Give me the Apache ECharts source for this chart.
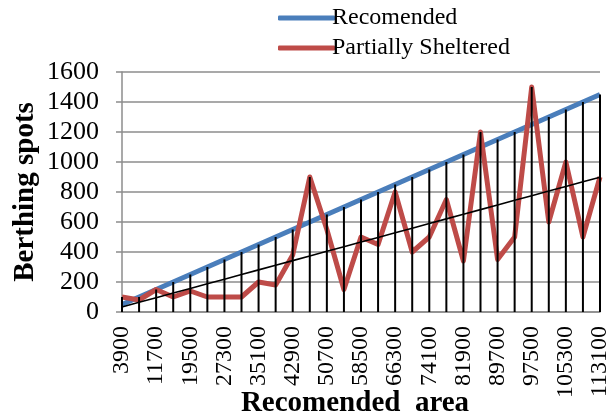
<!DOCTYPE html>
<html>
<head>
<meta charset="utf-8">
<script src="https://cdn.jsdelivr.net/npm/echarts@6/dist/echarts.min.js"></script>
<style>
  html, body { margin: 0; padding: 0; background: #fff; }
  #chart { width: 609px; height: 419px; }
</style>
</head>
<body>
<div id="chart"></div>
<script>
// Recommended area (x categories)
const areas = [3900, 7800, 11700, 15600, 19500, 23400, 27300, 31200, 35100, 39000,
  42900, 46800, 50700, 54600, 58500, 62400, 66300, 70200, 74100, 78000,
  81900, 85800, 89700, 93600, 97500, 101400, 105300, 109200, 113100];

// Berthing spots, recommended
const recommended = [50, 100, 150, 200, 250, 300, 350, 400, 450, 500,
  550, 600, 650, 700, 750, 800, 850, 900, 950, 1000,
  1050, 1100, 1150, 1200, 1250, 1300, 1350, 1400, 1450];

// Berthing spots, partially sheltered
const partiallySheltered = [100, 80, 150, 100, 140, 100, 100, 100, 200, 180,
  380, 900, 550, 150, 500, 450, 800, 400, 500, 750,
  340, 1200, 350, 500, 1500, 600, 1000, 500, 900];

const yTicks = { min: 0, max: 1600, interval: 200 };

// Drop lines: from the highest point of each category down to the axis
const dropTops = recommended.map((v, i) => Math.max(v, partiallySheltered[i]));

// Linear trend of the partially sheltered series (least squares)
const n = partiallySheltered.length;
const mx = (n - 1) / 2;
const my = partiallySheltered.reduce((a, b) => a + b, 0) / n;
let sxy = 0, sxx = 0;
partiallySheltered.forEach((y, i) => { sxy += (i - mx) * (y - my); sxx += (i - mx) * (i - mx); });
const slope = sxy / sxx;
const trend = partiallySheltered.map((_, i) => my + slope * (i - mx));

const font = 'Liberation Serif, Times New Roman, serif';
const gridGray = '#8c8c8c';
const chart = echarts.init(document.getElementById('chart'));
chart.setOption({
  animation: false,
  textStyle: { fontFamily: font },
  grid: { left: 122, right: 9, top: 72, bottom: 107, containLabel: false, outerBoundsMode: 'none' },
  legend: {
    orient: 'vertical',
    left: 273,
    top: 1,
    itemWidth: 57,
    itemHeight: 5,
    itemGap: 6,
    icon: 'roundRect',
    data: ['Recomended', 'Partially Sheltered'],
    textStyle: { fontFamily: font, fontSize: 24, color: '#000', padding: [0, 0, 0, -8] }
  },
  xAxis: {
    type: 'category',
    data: areas,
    boundaryGap: false,
    name: 'Recomended  area',
    nameLocation: 'middle',
    nameGap: 77,
    nameMoveOverlap: false,
    nameTextStyle: { fontFamily: font, fontSize: 29, fontWeight: 'bold', color: '#000', padding: [0, 12, 0, 0] },
    axisLine: { lineStyle: { color: gridGray, width: 1.5 } },
    axisTick: { show: false },
    axisLabel: { interval: 1, rotate: 90, fontFamily: font, fontSize: 24, color: '#000', margin: 14 },
    splitLine: { show: false }
  },
  yAxis: {
    type: 'value',
    min: yTicks.min,
    max: yTicks.max,
    interval: yTicks.interval,
    name: 'Berthing spots',
    nameLocation: 'middle',
    nameGap: 82,
    nameMoveOverlap: false,
    nameRotate: 90,
    nameTextStyle: { fontFamily: font, fontSize: 29, fontWeight: 'bold', color: '#000' },
    axisLine: { show: true, lineStyle: { color: gridGray, width: 1.5 } },
    axisTick: { show: true, length: 6, lineStyle: { color: gridGray, width: 1.5 } },
    axisLabel: { fontFamily: font, fontSize: 26, color: '#000', margin: 23, formatter: v => String(v) },
    splitLine: { lineStyle: { color: gridGray, width: 1.5 } }
  },
  series: [
    {
      name: 'Recomended',
      type: 'line',
      data: recommended,
      symbol: 'none',
      z: 2,
      itemStyle: { color: '#4a7ebb' },
      lineStyle: { color: '#4a7ebb', width: 5 }
    },
    {
      name: 'Partially Sheltered',
      type: 'line',
      data: partiallySheltered,
      symbol: 'none',
      z: 3,
      itemStyle: { color: '#be4b48' },
      lineStyle: { color: '#be4b48', width: 5, join: 'round' }
    },
    {
      name: 'drop',
      type: 'bar',
      data: dropTops,
      barWidth: 2,
      silent: true,
      z: 4,
      itemStyle: { color: '#000' }
    },
    {
      name: 'trend',
      type: 'line',
      data: trend,
      symbol: 'none',
      silent: true,
      z: 5,
      lineStyle: { color: '#000', width: 1.6 }
    }
  ]
});
</script>
</body>
</html>
